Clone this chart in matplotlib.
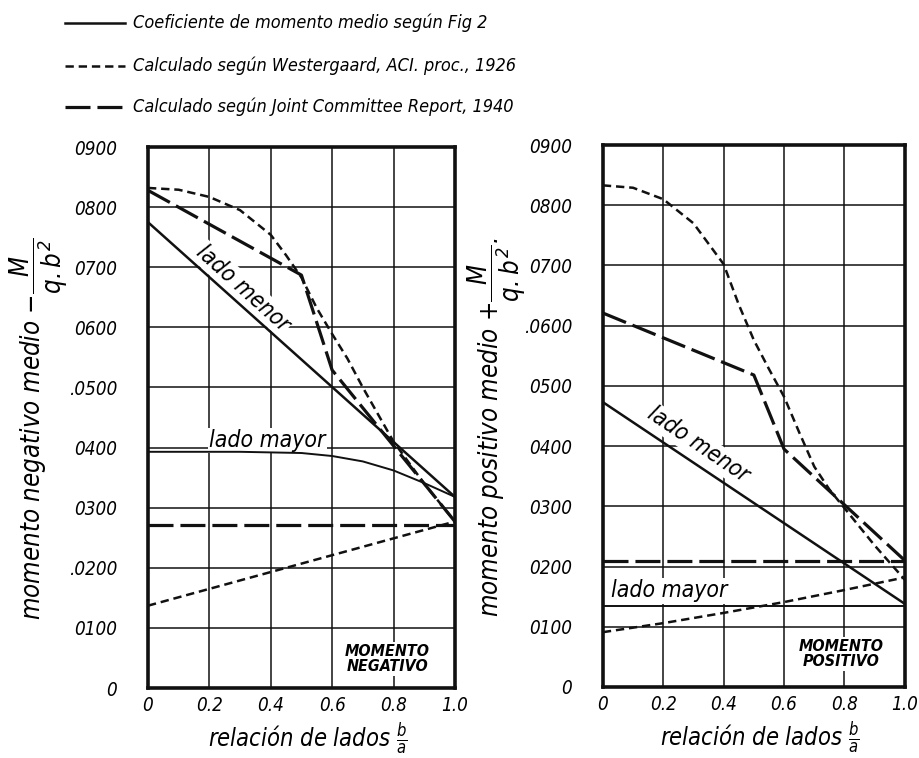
import matplotlib
matplotlib.use("Agg")
import matplotlib.pyplot as plt
from matplotlib.lines import Line2D

plt.rcParams['font.family'] = ['DejaVu Sans']
plt.rcParams['font.style'] = 'italic'
plt.rcParams['font.stretch'] = 'condensed'
plt.rcParams['mathtext.fontset'] = 'dejavusans'
plt.rcParams['lines.scale_dashes'] = False

# relacion de lados b/a
x_ticks = [0, 0.2, 0.4, 0.6, 0.8, 1.0]
x_tick_labels = ['0', '0.2', '0.4', '0.6', '0.8', '1.0']
y_ticks = [0, 0.01, 0.02, 0.03, 0.04, 0.05, 0.06, 0.07, 0.08, 0.09]
y_labels_neg = ['0', '0100', '.0200', '0300', '0400', '.0500', '0600', '0700', '0800', '0900']
y_labels_pos = ['0', '0100', '0200', '0300', '0400', '0500', '.0600', '0700', '0800', '0900']

legend_labels = ['Coeficiente de momento medio según Fig 2',
                 'Calculado según Westergaard, ACI. proc., 1926',
                 'Calculado según Joint Committee Report, 1940']

# momento negativo
neg_fig2_menor_x = [0.0, 1.0]
neg_fig2_menor_y = [0.0775, 0.0318]
neg_fig2_mayor_x = [0.0, 0.3, 0.5, 0.6, 0.7, 0.8, 0.9, 1.0]
neg_fig2_mayor_y = [0.0393, 0.0393, 0.0391, 0.0386, 0.0377, 0.0362, 0.0341, 0.0318]
neg_west_menor_x = [0.0, 0.1, 0.2, 0.3, 0.4, 0.45, 0.5, 0.55, 0.6, 0.65, 0.7, 0.8, 0.9, 1.0]
neg_west_menor_y = [0.0832, 0.0829, 0.0817, 0.0795, 0.0754, 0.0720, 0.0683, 0.0632,
                    0.0589, 0.0548, 0.0500, 0.0410, 0.0340, 0.0277]
neg_west_mayor_x = [0.0, 1.0]
neg_west_mayor_y = [0.0137, 0.0277]
neg_jc_menor_x = [0.0, 0.5, 0.6, 1.0]
neg_jc_menor_y = [0.0828, 0.0687, 0.0529, 0.0277]
neg_jc_mayor_x = [0.0, 1.0]
neg_jc_mayor_y = [0.0272, 0.0272]

# momento positivo
pos_fig2_menor_x = [0.0, 1.0]
pos_fig2_menor_y = [0.0473, 0.0138]
pos_fig2_mayor_x = [0.0, 1.0]
pos_fig2_mayor_y = [0.0135, 0.0135]
pos_west_menor_x = [0.0, 0.1, 0.2, 0.3, 0.4, 0.45, 0.5, 0.55, 0.6, 0.65, 0.7, 0.75, 0.8, 0.9, 1.0]
pos_west_menor_y = [0.0833, 0.0829, 0.0810, 0.0770, 0.0702, 0.0635, 0.0576, 0.0528,
                    0.0482, 0.0423, 0.0366, 0.0328, 0.0297, 0.0235, 0.0178]
pos_west_mayor_x = [0.0, 0.2, 0.4, 0.6, 0.8, 1.0]
pos_west_mayor_y = [0.0091, 0.0106, 0.0123, 0.0141, 0.0161, 0.0182]
pos_jc_menor_x = [0.0, 0.5, 0.6, 1.0]
pos_jc_menor_y = [0.0621, 0.0518, 0.0395, 0.0210]
pos_jc_mayor_x = [0.0, 1.0]
pos_jc_mayor_y = [0.0209, 0.0209]

INK = '#111111'
SOLID = dict(color=INK, lw=1.8, ls='-')
WEST = dict(color=INK, lw=1.8, ls=(0, (6, 3.5)))
JC = dict(color=INK, lw=2.3, ls=(0, (18, 5)))


def setup_axes(ax, y_labels, ylabel, label_x):
    ax.set_xlim(0, 1.0)
    ax.set_ylim(0, 0.09)
    ax.set_xticks(x_ticks)
    ax.set_xticklabels(x_tick_labels, fontsize=13.5)
    ax.set_yticks(y_ticks)
    ax.set_yticklabels(y_labels, fontsize=13.5)
    ax.tick_params(length=0)
    ax.tick_params(axis='y', pad=22)
    ax.tick_params(axis='x', pad=6)
    ax.grid(True, color=INK, lw=1.1)
    ax.set_axisbelow(True)
    for s in ax.spines.values():
        s.set_linewidth(2.6)
        s.set_color(INK)
    ax.set_ylabel(ylabel, fontsize=18.5, va='center')
    ax.yaxis.set_label_coords(label_x, 0.48)
    # la fraccion b/a queda debajo de los numeros del eje
    ax.set_xlabel(r'relación de lados $\frac{b}{a}$', fontsize=17, va='bottom')
    ax.xaxis.set_label_coords(0.52, -0.126)


def note(ax, x, y, txt, rot=0, size=16.5):
    ax.text(x, y, txt, fontsize=size, rotation=rot, rotation_mode='anchor',
            ha='center', va='center', zorder=3,
            bbox=dict(facecolor='white', edgecolor='none', pad=1))


def box_note(ax, x, y, txt):
    ax.text(x, y, txt, fontsize=11.5, fontweight='bold', ha='center', va='center',
            linespacing=1.0, zorder=3,
            bbox=dict(facecolor='white', edgecolor='none', pad=1.5))


fig = plt.figure(figsize=(9.19, 7.58), dpi=100)
ax1 = fig.add_axes([0.161, 0.0923, 0.334, 0.7137])
ax2 = fig.add_axes([0.656, 0.0937, 0.3286, 0.715])

# panel izquierdo: momento negativo
ax1.plot(neg_fig2_menor_x, neg_fig2_menor_y, **SOLID, zorder=4)
ax1.plot(neg_fig2_mayor_x, neg_fig2_mayor_y, color=INK, lw=1.4, zorder=4)
ax1.plot(neg_west_menor_x, neg_west_menor_y, **WEST, zorder=4)
ax1.plot(neg_west_mayor_x, neg_west_mayor_y, **WEST, zorder=4)
ax1.plot(neg_jc_menor_x, neg_jc_menor_y, **JC, zorder=4)
ax1.plot(neg_jc_mayor_x, neg_jc_mayor_y, **JC, zorder=4)
setup_axes(ax1, y_labels_neg, r'momento negativo medio $-\dfrac{M}{q.b^{2}}$', -0.355)
note(ax1, 0.31, 0.0665, 'lado menor', rot=-42)
note(ax1, 0.39, 0.0412, 'lado mayor')
box_note(ax1, 0.78, 0.0048, 'MOMENTO\nNEGATIVO')

# panel derecho: momento positivo
ax2.plot(pos_fig2_menor_x, pos_fig2_menor_y, **SOLID, zorder=4)
ax2.plot(pos_fig2_mayor_x, pos_fig2_mayor_y, color=INK, lw=1.4, zorder=4)
ax2.plot(pos_west_menor_x, pos_west_menor_y, **WEST, zorder=4)
ax2.plot(pos_west_mayor_x, pos_west_mayor_y, **WEST, zorder=4)
ax2.plot(pos_jc_menor_x, pos_jc_menor_y, **JC, zorder=4)
ax2.plot(pos_jc_mayor_x, pos_jc_mayor_y, **JC, zorder=4)
setup_axes(ax2, y_labels_pos, r'momento positivo medio $+\dfrac{M}{q.b^{2}}$.', -0.352)
note(ax2, 0.315, 0.0402, 'lado menor', rot=-34)
note(ax2, 0.22, 0.0160, 'lado mayor')
box_note(ax2, 0.79, 0.0055, 'MOMENTO\nPOSITIVO')

# leyenda arriba
rows_y = [1 - 23 / 758, 1 - 66 / 758, 1 - 107 / 758]
for yy, style, lab in zip(rows_y, [SOLID, WEST, JC], legend_labels):
    fig.add_artist(Line2D([0.071, 0.136], [yy, yy], transform=fig.transFigure, **style))
    fig.text(0.145, yy, lab, fontsize=13, va='center', ha='left')

plt.savefig('out.png', dpi=100)
plt.close()
